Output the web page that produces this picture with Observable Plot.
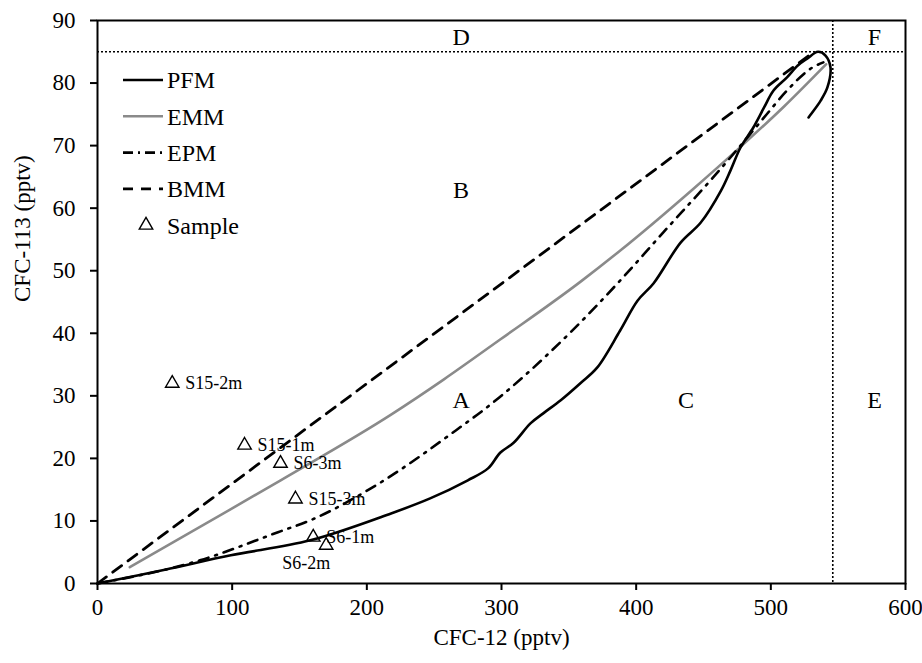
<!DOCTYPE html>
<html>
<head>
<meta charset="utf-8">
<script src="https://cdn.jsdelivr.net/npm/d3@7"></script>
<script src="https://cdn.jsdelivr.net/npm/@observablehq/plot@0.6"></script>
<style>
  html, body { margin: 0; padding: 0; background: #fff; }
  #wrap { position: relative; width: 922px; height: 663px; }
  #wrap svg { position: absolute; left: 0; top: 0; }
</style>
</head>
<body>
<div id="wrap"></div>
<script>
// ---- tick labels ----
const xTicks = [0, 100, 200, 300, 400, 500, 600];
const yTicks = [0, 10, 20, 30, 40, 50, 60, 70, 80, 90];

// ---- PFM (piston flow model) ----
const pfmX = [0, 50, 99, 158, 218, 247, 275, 290, 299, 309, 321.5, 331, 344, 359, 371, 388, 401, 413, 433, 448, 463, 470, 477.5, 487, 495, 502, 512, 520, 527, 535, 540.6, 544.3, 542, 537, 528];
const pfmY = [0, 2.2, 4.5, 6.9, 11.2, 13.6, 16.5, 18.4, 20.9, 22.5, 25.6, 27.2, 29.3, 32.1, 34.5, 40.4, 45.2, 48.0, 54.5, 57.7, 62.8, 66.0, 69.7, 72.9, 76.1, 78.8, 80.9, 82.8, 83.9, 85.0, 84.4, 82.5, 79.3, 77.2, 74.5];

// ---- EMM (exponential mixing model) ----
const emmX = [24, 100, 136, 218, 257, 299, 359, 388, 443, 477.5, 510, 541];
const emmY = [2.6, 12.0, 16.5, 27.0, 32.6, 39.0, 48.3, 53.2, 63.2, 69.8, 76.3, 83.0];

// ---- EPM (exponential piston flow model) ----
const epmX = [0, 76, 134, 158, 203, 272, 284, 351, 388, 420, 455, 470, 495, 512, 531, 539];
const epmY = [0, 3.7, 8.2, 10.1, 15.2, 25.4, 27.3, 40.1, 48.4, 56.1, 64.4, 68.1, 74.5, 78.8, 82.5, 83.3];

// ---- BMM (binary mixing model) ----
const bmmX = [0, 532];
const bmmY = [0, 85];

// ---- samples ----
const sampleNames = ["S15-2m", "S15-1m", "S6-3m", "S15-3m", "S6-1m", "S6-2m"];
const sampleCFC12 = [55.5, 109.2, 135.9, 147, 160.2, 169.8];
const sampleCFC113 = [32.0, 22.1, 19.2, 13.5, 7.4, 6.1];

// ---- region labels and boundaries ----
const regionNames = ["D", "F", "B", "A", "C", "E"];
const regionX = [270, 577, 270, 270, 437, 577];
const regionY = [87.3, 87.3, 62.8, 29.3, 29.3, 29.3];
const boundaryCFC12 = [546];
const boundaryCFC113 = [85];

// ---- legend ----
const legendNames = ["PFM", "EMM", "EPM", "BMM", "Sample"];

const toPts = (xs, ys) => xs.map((x, i) => ({x, y: ys[i]}));
const pfm = toPts(pfmX, pfmY);
const emm = toPts(emmX, emmY);
const epm = toPts(epmX, epmY);
const bmm = toPts(bmmX, bmmY);
const samples = sampleNames.map((name, i) => ({name, x: sampleCFC12[i], y: sampleCFC113[i]}));
const regions = regionNames.map((name, i) => ({name, x: regionX[i], y: regionY[i]}));

const FONT = "'Liberation Serif', 'Times New Roman', serif";

const chart = Plot.plot({
  width: 922,
  height: 663,
  marginLeft: 97,
  marginRight: 17,
  marginTop: 20,
  marginBottom: 80,
  style: {fontFamily: FONT, fontSize: "23px", color: "#000", background: "#fff"},
  x: {domain: [0, 600]},
  y: {domain: [0, 90]},
  marks: [
    Plot.ruleX(boundaryCFC12, {stroke: "#000", strokeWidth: 1.6, strokeDasharray: "2,2"}),
    Plot.ruleY(boundaryCFC113, {stroke: "#000", strokeWidth: 1.6, strokeDasharray: "2,2"}),
    Plot.line(bmm, {x: "x", y: "y", stroke: "#000", strokeWidth: 2.8, strokeDasharray: "11,8"}),
    Plot.line(emm, {x: "x", y: "y", stroke: "#8a8a8a", strokeWidth: 2.6, curve: "monotone-x"}),
    Plot.line(epm, {x: "x", y: "y", stroke: "#000", strokeWidth: 2.6, strokeDasharray: "10,7,2,7", curve: "monotone-x"}),
    Plot.line(pfm, {x: "x", y: "y", stroke: "#000", strokeWidth: 2.6, curve: "catmull-rom"}),
    Plot.dot(samples, {x: "x", y: "y", symbol: "triangle", r: 5, stroke: "#000", strokeWidth: 1.4, fill: "none"}),
    Plot.text(samples, {filter: d => d.name !== "S6-2m", x: "x", y: "y", text: "name", dx: 13, textAnchor: "start", fontSize: 18, fill: "#000"}),
    Plot.text(samples, {filter: d => d.name === "S6-2m", x: "x", y: "y", text: "name", dx: -20, dy: 18, textAnchor: "middle", fontSize: 18, fill: "#000"}),
    Plot.text(regions, {x: "x", y: "y", text: "name", fontSize: 24, fill: "#000"}),
    Plot.axisX({ticks: xTicks, tickSize: 7, tickPadding: 8, strokeWidth: 2, fontSize: 23, label: null, tickFormat: d => d}),
    Plot.axisY({ticks: yTicks, tickSize: 7, tickPadding: 15, strokeWidth: 2, fontSize: 23, label: null, tickFormat: d => d}),
    Plot.text(["CFC-12 (pptv)"], {frameAnchor: "bottom", dy: 61, fontSize: 23, fill: "#000"}),
    Plot.text(["CFC-113 (pptv)"], {frameAnchor: "left", dx: -75, rotate: -90, fontSize: 23, fill: "#000"}),
    Plot.frame({stroke: "#000", strokeWidth: 2})
  ]
});
document.getElementById("wrap").appendChild(chart);

// ---- legend overlay ----
const legendStyles = [
  {stroke: "#000", dash: null},
  {stroke: "#8a8a8a", dash: null},
  {stroke: "#000", dash: "10,5,2,5"},
  {stroke: "#000", dash: "10,8"},
  null
];
const leg = d3.select("#wrap").append("svg")
  .attr("width", 922).attr("height", 663)
  .style("pointer-events", "none");
const rowY = i => 80 + i * 36.3;
legendNames.forEach((name, i) => {
  const s = legendStyles[i];
  if (s) {
    leg.append("line")
      .attr("x1", 123).attr("x2", 163)
      .attr("y1", rowY(i)).attr("y2", rowY(i))
      .attr("stroke", s.stroke).attr("stroke-width", 2.6)
      .attr("stroke-dasharray", s.dash);
  } else {
    leg.append("path")
      .attr("transform", `translate(146,${rowY(i)})`)
      .attr("d", d3.symbol(d3.symbolTriangle, 5 * 5 * Math.PI)())
      .attr("fill", "none").attr("stroke", "#000").attr("stroke-width", 1.4);
  }
  leg.append("text")
    .attr("x", 167).attr("y", rowY(i)).attr("dy", "0.35em")
    .attr("font-family", FONT).attr("font-size", 24)
    .text(name);
});
</script>
</body>
</html>
